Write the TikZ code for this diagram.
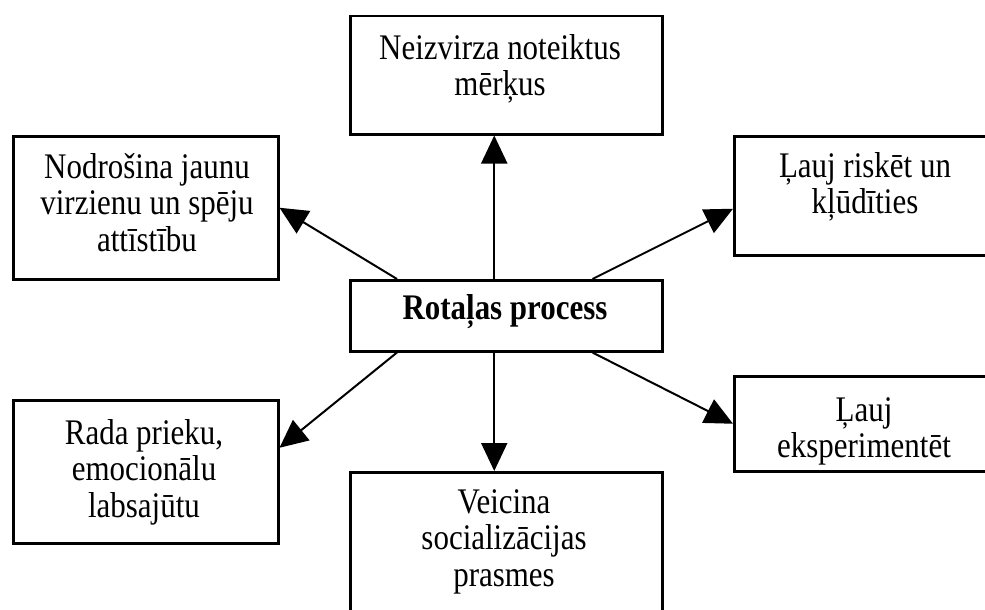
\documentclass[tikz,border=0pt]{standalone}
\usepackage{fontspec}
\setmainfont{Liberation Serif}[FakeStretch=0.86]
\usetikzlibrary{arrows.meta}
\begin{document}
\begin{tikzpicture}[x=1pt,y=-1pt,
  box/.style={draw, line width=2.5pt, rectangle, inner sep=0pt, anchor=north west},
  lbl/.style={anchor=north, inner sep=0pt, align=center, font=\fontsize{36}{36.5}\selectfont},
  arr/.style={line width=2pt, -{Triangle[length=28pt,width=26pt]}}]
\useasboundingbox (0,0) rectangle (985,610);
\fill[white] (0,0) rectangle (985,610);
\clip (0,0) rectangle (985,610);
% boxes
\node[box, minimum width=312pt, minimum height=118pt] (top) at (349,15) {};
\node[box, minimum width=265pt, minimum height=143pt] (lu) at (12,135) {};
\node[box, minimum width=262pt, minimum height=119pt] (ru) at (733,135) {};
\node[box, minimum width=312pt, minimum height=71pt] (c) at (349,279) {};
\node[box, minimum width=265pt, minimum height=143pt] (ll) at (12,399) {};
\node[box, minimum width=262pt, minimum height=95pt] (rl) at (733,375) {};
\node[box, minimum width=312pt, minimum height=160pt] (bt) at (349,471) {};
% labels
\node[lbl] (ttop) at (500,34) {Neizvirza noteiktus\\mērķus};
\node[lbl] (tlu) at (147,153) {Nodrošina jaunu\\virzienu un spēju\\attīstību};
\node[lbl] (tru) at (865,152) {Ļauj riskēt un\\kļūdīties};
\node[lbl, font=\fontsize{36}{36.5}\selectfont\bfseries] (tc) at (505,294) {Rotaļas process};
\node[lbl] (tll) at (144,419) {Rada prieku,\\emocionālu\\labsajūtu};
\node[lbl] (trl) at (864,397) {Ļauj\\eksperimentēt};
\node[lbl] (tbt) at (504,489) {Veicina\\socializācijas\\prasmes};
% arrows
\draw[arr] ([xshift=-12pt]c.north) -- ([xshift=-12pt]top.south);
\draw[arr] ([xshift=48pt]c.north west) -- (lu.east);
\draw[arr] ([xshift=-71pt]c.north east) -- ([yshift=-13pt]ru.west);
\draw[arr] ([xshift=48pt]c.south west) -- ([yshift=24pt]ll.east);
\draw[arr] ([xshift=-71pt]c.south east) -- (rl.west);
\draw[arr] ([xshift=-12pt]c.south) -- ([xshift=-12pt]bt.north);
\end{tikzpicture}
\end{document}
